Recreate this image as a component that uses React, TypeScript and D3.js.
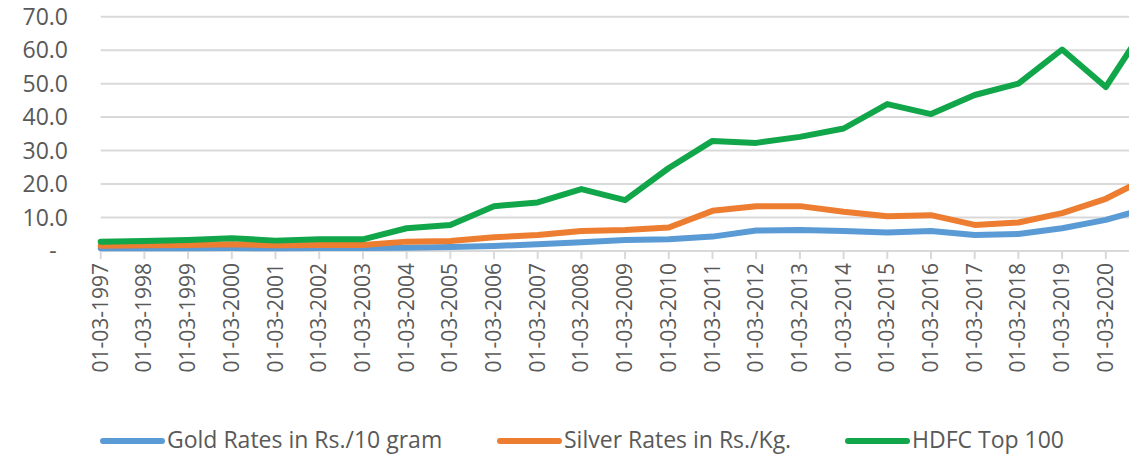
import * as d3 from 'd3';

const years = [
  '1997', '1998', '1999', '2000', '2001', '2002', '2003', '2004', '2005', '2006', '2007', '2008', '2009',
  '2010', '2011', '2012', '2013', '2014', '2015', '2016', '2017', '2018', '2019', '2020', '2021',
];
const categories = years.map((y) => `01-03-${y}`);

const gold = [0.8, 0.8, 0.8, 0.9, 0.8, 0.9, 0.9, 1.0, 1.2, 1.5, 2.0, 2.6, 3.3, 3.5, 4.3, 6.1, 6.3, 6.0, 5.5, 6.0, 4.8, 5.1, 6.8, 9.3, 13.0];
const silver = [1.6, 1.7, 1.8, 2.0, 1.7, 1.8, 1.8, 2.8, 3.0, 4.1, 4.8, 6.0, 6.3, 7.0, 12.0, 13.4, 13.4, 11.7, 10.4, 10.7, 7.8, 8.5, 11.3, 15.6, 22.2];
const hdfc = [2.8, 3.0, 3.3, 3.8, 3.1, 3.5, 3.5, 6.8, 7.8, 13.4, 14.5, 18.5, 15.2, 24.8, 32.9, 32.3, 34.1, 36.6, 43.9, 40.9, 46.6, 50.0, 60.2, 49.0, 69.0];

const yTicks = [0, 10, 20, 30, 40, 50, 60, 70];

const series = [
  { name: 'Gold Rates in Rs./10 gram', color: '#5b9bd5', values: gold },
  { name: 'Silver Rates in Rs./Kg.', color: '#ed7d31', values: silver },
  { name: 'HDFC Top 100', color: '#12a64b', values: hdfc },
];

const W = 1129;
const H = 455;
const FONT = '"Open Sans", "Liberation Sans", sans-serif';
const TEXT = '#595959';

export default function App() {
  const x = d3.scalePoint<string>().domain(categories).range([100.7, 100.7 + 43.7 * (categories.length - 1)]);
  const y = d3.scaleLinear().domain([0, 70]).range([251, 16.7]);

  const line = d3.line<number>()
    .x((_, i) => x(categories[i]) ?? 0)
    .y((d) => y(d));

  // only the categories whose label fits on the page (the last one is cut off in the source)
  const shown = categories.filter((c) => (x(c) ?? 0) + 10 < W);

  const legendX = [100, 497, 845];

  return (
    <div style={{ position: 'absolute', left: 0, top: 0 }}>
      <svg width={W} height={H} style={{ display: 'block', background: '#fff' }}>
        {yTicks.map((t) => (
          <g key={t}>
            <line x1={100.7} x2={W} y1={y(t)} y2={y(t)} stroke="#d9d9d9" strokeWidth={2} />
            <text
              x={t === 0 ? 53 : 68}
              y={y(t)}
              dy="0.36em"
              textAnchor={t === 0 ? 'middle' : 'end'}
              fontFamily={FONT}
              fontSize={23}
              fill={TEXT}
            >
              {t === 0 ? '-' : t.toFixed(1)}
            </text>
          </g>
        ))}

        {shown.map((c) => (
          <g key={c}>
            <line x1={x(c)} x2={x(c)} y1={251} y2={259} stroke="#d9d9d9" strokeWidth={2} />
            <text
              transform={`translate(${(x(c) ?? 0) + 7},${263}) rotate(-90)`}
              textAnchor="end"
              fontFamily={FONT}
              fontSize={21}
              fill={TEXT}
            >
              {c}
            </text>
          </g>
        ))}

        <g>
          {series.map((s) => (
            <path
              key={s.name}
              d={line(s.values) ?? ''}
              fill="none"
              stroke={s.color}
              strokeWidth={6}
              strokeLinejoin="round"
              strokeLinecap="round"
            />
          ))}
        </g>

        {series.map((s, i) => (
          <g key={s.name} transform={`translate(${legendX[i]},441)`}>
            <line x1={3} x2={62} y1={0} y2={0} stroke={s.color} strokeWidth={6} strokeLinecap="round" />
            <text x={67} y={7} fontFamily={FONT} fontSize={23} fill={TEXT}>
              {s.name}
            </text>
          </g>
        ))}
      </svg>
    </div>
  );
}
